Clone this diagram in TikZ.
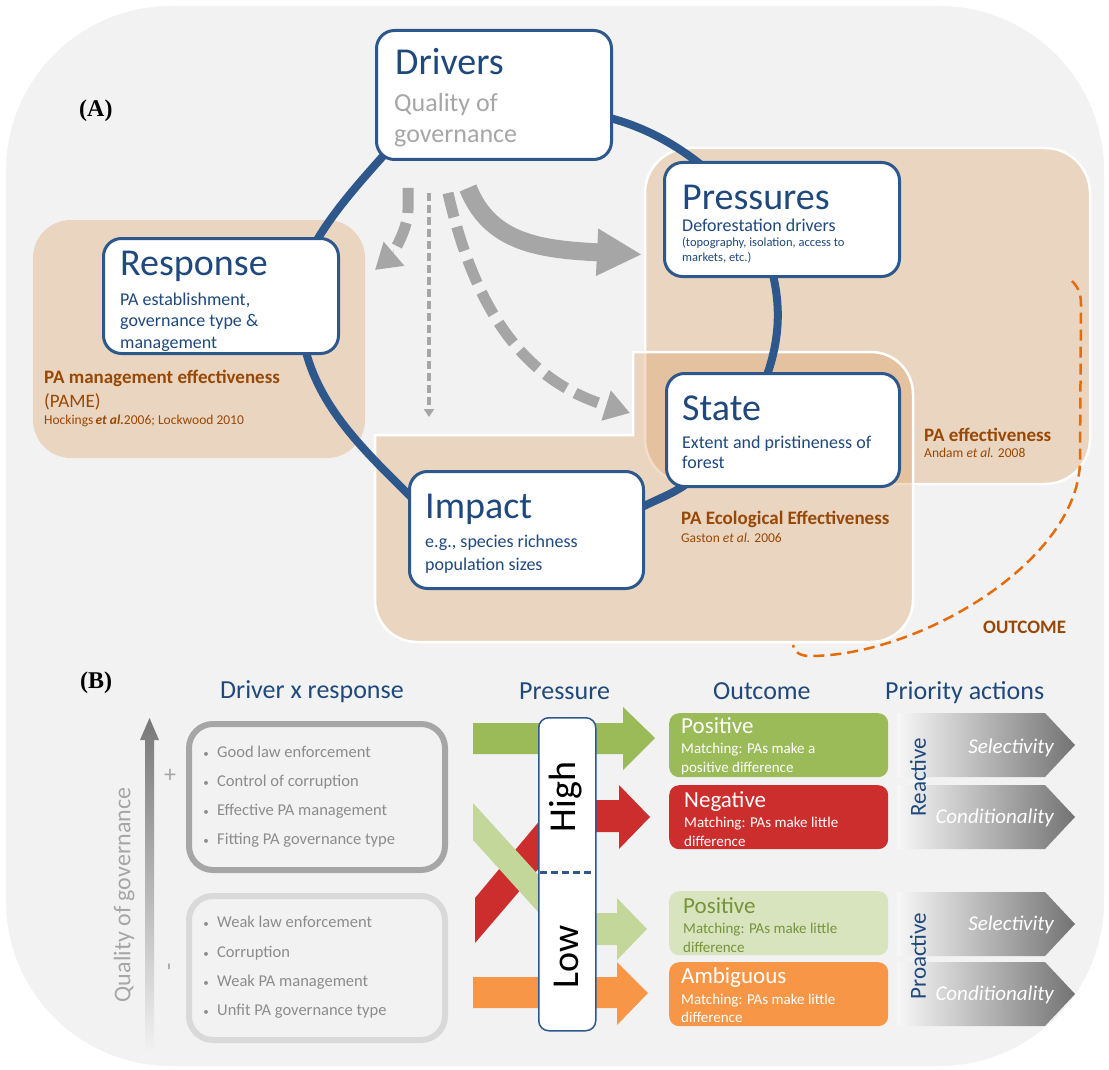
\documentclass[tikz,border=0pt]{standalone}
\usepackage{fontspec}
\setmainfont{Carlito}
\newfontfamily\panelfont{Liberation Serif}
\usetikzlibrary{calc,arrows.meta}

\definecolor{paper}{RGB}{242,242,242}
\definecolor{ringblue}{RGB}{46,88,140}
\definecolor{titleblue}{RGB}{31,73,125}
\definecolor{flowgray}{RGB}{166,166,166}
\definecolor{zonetan}{RGB}{220,160,100}
\definecolor{notebrown}{RGB}{152,72,6}
\definecolor{outcomeorange}{RGB}{228,108,10}
\definecolor{posgreen}{RGB}{155,187,89}
\definecolor{negred}{RGB}{204,45,45}
\definecolor{palegreen}{RGB}{215,228,189}
\definecolor{arrowpale}{RGB}{196,215,155}
\definecolor{paletext}{RGB}{119,147,60}
\definecolor{ambigorange}{RGB}{247,150,70}
\definecolor{itemgray}{RGB}{140,140,140}
\definecolor{goodframe}{RGB}{166,166,166}
\definecolor{weakframe}{RGB}{217,217,217}
\definecolor{chevgray}{RGB}{115,115,115}
\definecolor{govgray}{RGB}{120,120,120}

\pgfdeclarelayer{canvas}
\pgfdeclarelayer{zones}
\pgfdeclarelayer{links}
\pgfsetlayers{canvas,zones,links,main}

\newcommand{\setfs}[1]{\fontsize{#1}{#1}\selectfont}

\tikzset{
  txt/.style={anchor=base west, inner sep=0pt},
  panel/.style={txt, font=\panelfont\bfseries\setfs{24}},
  dpsir/.style={draw=ringblue, line width=3pt, fill=white, rounded corners=18pt,
    anchor=north west, inner sep=0pt},
  ring/.style={draw=ringblue, line width=8pt},
  zone/.style={fill=zonetan, fill opacity=0.35},
  zone edge/.style={zone, draw=white, line width=2.5pt},
  boxtitle/.style={txt, text=titleblue, font=\setfs{38}},
  boxsub/.style={txt, text=titleblue, font=\setfs{18}},
  zonetitle/.style={txt, text=notebrown, font=\bfseries\setfs{19}},
  zonecite/.style={txt, text=notebrown, font=\setfs{13.5}},
  flow/.style={draw=flowgray, line width=11pt, dash pattern=on 25pt off 10pt,
    -{Triangle[length=25pt,width=30pt]}},
  thinflow/.style={draw=flowgray, line width=3.5pt, dash pattern=on 8pt off 4pt,
    -{Triangle[length=8pt,width=10pt]}},
  bigflow/.style={draw=flowgray, line width=18pt, -{Triangle[length=45pt,width=44pt]}},
  colhead/.style={txt, text=titleblue, font=\setfs{26}},
  dot/.style={anchor=base, inner sep=0pt, text=itemgray, font=\setfs{11}},
  item/.style={txt, text=itemgray, font=\setfs{16.5}},
  sign/.style={inner sep=0pt, text=flowgray, font=\setfs{24}},
  govbox/.style={line width=6pt, rounded corners=24pt, anchor=north west,
    minimum width=256pt, inner sep=0pt},
  level/.style={rotate=90, inner sep=0pt, font=\setfs{38}},
  outbox/.style={anchor=north west, inner sep=0pt, rounded corners=10pt,
    minimum width=219pt, minimum height=64pt},
  outtitle/.style={txt, font=\setfs{23}},
  outsub/.style={txt, font=\setfs{15}},
  chevron/.style={left color=paper!60!white, right color=chevgray},
  action/.style={anchor=base east, inner sep=0pt, text=white, font=\itshape\setfs{21}},
  mode/.style={rotate=90, inner sep=0pt, text=titleblue, font=\setfs{23}},
}

\begin{document}
\begin{tikzpicture}[x=1pt, y=-1pt]
\useasboundingbox (0,0) rectangle (1109,1070);

\begin{pgfonlayer}{canvas}
  \fill[white] (0,0) rectangle (1109,1070);
  \fill[paper, rounded corners=165pt] (6,6) rectangle (1104,1066);
\end{pgfonlayer}

%%% (A) the DPSIR cycle
\node[panel] (panelA) at (79,117) {(A)};

\begin{pgfonlayer}{zones}
  \path[zone, rounded corners=38pt] (33,220) rectangle (365,458);
  \path[zone edge, rounded corners=45pt] (645,148) rectangle (1090,484);
  \path[zone edge] (375,435) -- (633,435) -- (633,352) -- (871,352)
    arc[start angle=90, end angle=0, radius=42pt] -- (913,600)
    arc[start angle=0, end angle=-90, radius=42pt] -- (417,642)
    arc[start angle=270, end angle=180, radius=42pt] -- cycle;
\end{pgfonlayer}

% boxes
\node[dpsir, minimum width=235pt, minimum height=129pt] (drivers) at (375,29) {};
\node[boxtitle] (drivers-t) at (395,75) {Drivers};
\node[txt, text=flowgray, font=\setfs{26}] (drivers-s1) at (394,112) {Quality of};
\node[txt, text=flowgray, font=\setfs{26}] (drivers-s2) at (394,143) {governance};

\node[dpsir, minimum width=235pt, minimum height=115pt] (response) at (102,237) {};
\node[boxtitle] (response-t) at (120,275) {Response};
\node[boxsub] (response-s1) at (120,305) {PA establishment,};
\node[boxsub] (response-s2) at (120,326) {governance type \&};
\node[boxsub] (response-s3) at (120,348) {management};

\node[dpsir, minimum width=235pt, minimum height=114pt] (pressures) at (663,161) {};
\node[boxtitle] (pressures-t) at (682,209) {Pressures};
\node[boxsub] (pressures-s1) at (682,231) {Deforestation drivers};
\node[txt, text=titleblue, font=\setfs{12.5}] (pressures-s2) at (682,246) {(topography, isolation, access to};
\node[txt, text=titleblue, font=\setfs{12.5}] (pressures-s3) at (682,261) {markets, etc.)};

\node[dpsir, minimum width=233pt, minimum height=113pt] (state) at (665,372) {};
\node[boxtitle] (state-t) at (682,420) {State};
\node[boxsub] (state-s1) at (682,448) {Extent and pristineness of};
\node[boxsub] (state-s2) at (682,468) {forest};

\node[dpsir, minimum width=234pt, minimum height=117pt] (impact) at (408,470) {};
\node[boxtitle] (impact-t) at (425,518) {Impact};
\node[boxsub] (impact-s1) at (425,547) {e.g., species richness};
\node[boxsub] (impact-s2) at (425,570) {population sizes};

% the cycle
\begin{pgfonlayer}{links}
  \draw[ring] ($(drivers.south west)+(9,-6)$) .. controls +(-25,28) and +(18,-30) .. ($(response.north east)+(-23,3)$);
  \draw[ring] ($(response.south east)+(-34,-3)$) .. controls +(16,60) and +(-42,-42) .. ($(impact.north west)+(3,27)$);
  \draw[ring] ($(impact.north east)+(-3,37)$) .. controls +(16,-8) and +(-13,9) .. ($(state.south west)+(20,-3)$);
  \draw[ring] ($(state.north west)+(102,3)$) .. controls +(12,-34) and +(8,34) .. ($(pressures.south west)+(110,-3)$);
  \draw[ring] ($(pressures.north west)+(37,3)$) .. controls +(-28,-22) and +(33,9) .. ($(drivers.south east)+(-3,-43)$);
\end{pgfonlayer}

% influence of the drivers
\coordinate (d-left) at ($(drivers.south west)+(33,27)$);
\coordinate (d-mid) at ($(drivers.south west)+(54,32)$);
\coordinate (d-state) at ($(drivers.south west)+(73,32)$);
\coordinate (d-press) at ($(drivers.south west)+(93,27)$);
\coordinate (to-resp) at ($(response.north east)+(35,33)$);
\coordinate (to-impact) at ($(impact.north west)+(21,-53)$);
\coordinate (to-state) at ($(state.north west)+(-35,41)$);
\coordinate (to-press) at ($(pressures.west)+(-21,35)$);

\draw[flow] (d-left) -- ++(0,22) .. controls +(0,22) and +(14,-12) .. (to-resp);
\draw[thinflow] (d-mid) -- (to-impact);
\draw[flow] (d-state) .. controls +(32,140) and +(-90,-28) .. (to-state);
\draw[bigflow] (d-press) .. controls +(22,55) and +(-102,-5) .. (to-press);

% zone labels
\node[zonetitle] (pame-t) at (44,383) {PA management effectiveness};
\node[txt, text=notebrown, font=\setfs{19}] (pame-s) at (44,407) {(PAME)};
\node[zonecite] (pame-c) at (44,424) {Hockings\,\textbf{\textit{et al.}}2006; Lockwood 2010};
\node[zonetitle] (pae-t) at (924,441) {PA effectiveness};
\node[zonecite] (pae-c) at (924,457) {Andam \textit{et al.} 2008};
\node[zonetitle] (eco-t) at (681,524) {PA Ecological Effectiveness};
\node[zonecite] (eco-c) at (681,542) {Gaston \textit{et al.} 2006};
\node[zonetitle] (outcome-t) at (983,633) {OUTCOME};

\draw[outcomeorange, line width=2.5pt, dash pattern=on 11pt off 6pt]
  (1072,281) .. controls (1079,288) and (1081,295) .. (1081,305) -- (1080,460)
  .. controls (1080,560) and (920,656) .. (810,656)
  .. controls (800,656) and (794,652) .. (793,645);

%%% (B) matching governance and pressure
\node[panel] (panelB) at (80,688) {(B)};
\node[colhead] (h-driver) at (220,698) {Driver x response};
\node[colhead] (h-press) at (519,699) {Pressure};
\node[colhead] (h-out) at (713,699) {Outcome};
\node[colhead] (h-prio) at (885,699) {Priority actions};

% governance axis
\path[top color=govgray, bottom color=paper] (145,1053) -- (145,740) -- (140,740)
  -- (149.5,718) -- (159,740) -- (154,740) -- (154,1053) -- cycle;
\node[rotate=90, inner sep=0pt, text=flowgray, font=\setfs{24}] (qog) at (124,895) {Quality of governance};
\node[sign] (plus) at (170,776) {+};
\node[sign, rotate=90] (minus) at (172,967) {-};

\node[govbox, draw=goodframe, minimum height=146pt] (good) at (186,721) {};
\node[govbox, draw=weakframe, minimum height=144pt] (weak) at (186,893) {};
\foreach \y/\txt [count=\i] in {757/Good law enforcement, 786/Control of corruption,
    815/Effective PA management, 844/Fitting PA governance type} {
  \node[dot] (gdot\i) at (206,\y) {\textbullet};
  \node[item] (good\i) at (217,\y) {\txt};
}
\foreach \y/\txt [count=\i] in {927/Weak law enforcement, 957/Corruption,
    986/Weak PA management, 1015/Unfit PA governance type} {
  \node[dot] (wdot\i) at (206,\y) {\textbullet};
  \node[item] (weak\i) at (217,\y) {\txt};
}

% governance x pressure arrows
\fill[posgreen] (473,723) -- (623,723) -- (623,707) -- (655,738) -- (623,770)
  -- (623,754) -- (473,754) -- cycle;
\fill[negred] (475,943) -- (475,898) -- (557,800) -- (619,800) -- (619,785)
  -- (650,817) -- (619,849) -- (619,832) -- (570,832) -- cycle;
\fill[arrowpale] (473,803) -- (573,913) -- (617,913) -- (617,898) -- (647,929)
  -- (617,960) -- (617,945) -- (568,945) -- (473,840) -- cycle;
\fill[ambigorange] (473,977) -- (617,977) -- (617,962) -- (648,993) -- (617,1025)
  -- (617,1008) -- (473,1008) -- cycle;

\node[draw=ringblue, line width=1.5pt, fill=white, rounded corners=10pt, anchor=north west,
  inner sep=0pt, minimum width=57pt, minimum height=313pt] (pbar) at (538,717) {};
\draw[ringblue, line width=3pt, dash pattern=on 7pt off 4pt] (540,872) -- (594,872);
\node[level] (high) at (566,797) {High};
\node[level] (low) at (566,957) {Low};

% outcomes
\node[outbox, fill=posgreen] (pos-high) at (669,713) {};
\node[outtitle, text=white] (pos-high-t) at (681,733) {Positive};
\node[outsub, text=white] (pos-high-s1) at (681,753) {Matching: PAs make a};
\node[outsub, text=white] (pos-high-s2) at (681,772) {positive difference};

\node[outbox, fill=negred] (neg) at (669,785) {};
\node[outtitle, text=white] (neg-t) at (684,807) {Negative};
\node[outsub, text=white] (neg-s1) at (684,827) {Matching: PAs make little};
\node[outsub, text=white] (neg-s2) at (684,846) {difference};

\node[outbox, fill=palegreen] (pos-low) at (669,891) {};
\node[outtitle, text=paletext] (pos-low-t) at (683,913) {Positive};
\node[outsub, text=paletext] (pos-low-s1) at (683,933) {Matching: PAs make little};
\node[outsub, text=paletext] (pos-low-s2) at (683,952) {difference};

\node[outbox, fill=ambigorange] (amb) at (669,962) {};
\node[outtitle, text=white] (amb-t) at (681,983) {Ambiguous};
\node[outsub, text=white] (amb-s1) at (681,1004) {Matching: PAs make little};
\node[outsub, text=white] (amb-s2) at (681,1022) {difference};

% priority actions
\foreach \t in {713,785,892,962}
  \path[chevron] (897,\t) -- (1045,\t) -- (1075,\t+32) -- (1045,\t+64) -- (897,\t+64) -- cycle;
\node[action] (sel-re) at (1054,753) {Selectivity};
\node[action] (cond-re) at (1054,823) {Conditionality};
\node[action] (sel-pro) at (1054,930) {Selectivity};
\node[action] (cond-pro) at (1054,1000) {Conditionality};
\node[mode] (reactive) at (918,777) {Reactive};
\node[mode] (proactive) at (918,956) {Proactive};

\end{tikzpicture}
\end{document}
